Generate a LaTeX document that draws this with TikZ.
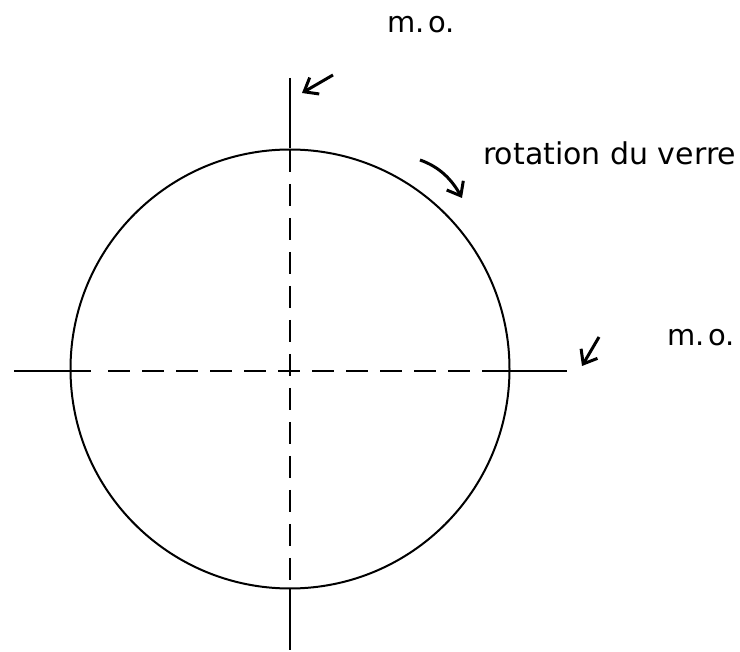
\documentclass[tikz,border=0pt]{standalone}
\usepackage{fontspec}
\setmainfont{DejaVu Sans}
\usetikzlibrary{arrows.meta}
\begin{document}
\begin{tikzpicture}[x=1pt,y=-1pt,
  ln/.style={line width=2pt},
  dsh/.style={line width=2pt, dash pattern=on 22pt off 12pt},
  arr/.style={line width=3pt, -{Straight Barb[length=12pt,width=19pt,line width=3pt]}},
  lbl/.style={font=\fontsize{29}{34}\selectfont, inner sep=0pt}]
\useasboundingbox (0,0) rectangle (740,652);
\node[draw, circle, line width=2pt, minimum size=439pt, inner sep=0pt] (c) at (290,369) {};
% vertical axis
\coordinate (vt) at (290,78);
\coordinate (vb) at (290,650);
\coordinate (vti) at (290,150);
\coordinate (vbi) at (290,588);
\draw[ln] (vt) -- (c.north);
\draw[dsh] (vti) -- (vbi);
\draw[ln] (c.south) -- (vb);
% horizontal axis
\coordinate (hl) at (14,371);
\coordinate (hr) at (567,371);
\draw[ln] (hl) -- (91,371);
\draw[dsh] (108,371) -- (498,371);
\draw[ln] (498,371) -- (hr);
% labels
\node[lbl] (mo1) at (421,25) {m.\hspace{0.12em}o.};
\node[lbl] (mo2) at (701,338) {m.\hspace{0.12em}o.};
\node[lbl, anchor=base west, font=\fontsize{30}{34}\selectfont] (rot) at (483,165) {rotation du verre};
% arrows
\coordinate (a1s) at (333,75);
\coordinate (a1e) at (302,93);
\draw[arr] (a1s) -- (a1e);
\coordinate (a2s) at (599,337);
\coordinate (a2e) at (582,366);
\draw[arr] (a2s) -- (a2e);
\coordinate (a3s) at (420,160);
\coordinate (a3e) at (462,198);
\draw[arr] (a3s) .. controls (440,167) and (452,180) .. (a3e);
\end{tikzpicture}
\end{document}
